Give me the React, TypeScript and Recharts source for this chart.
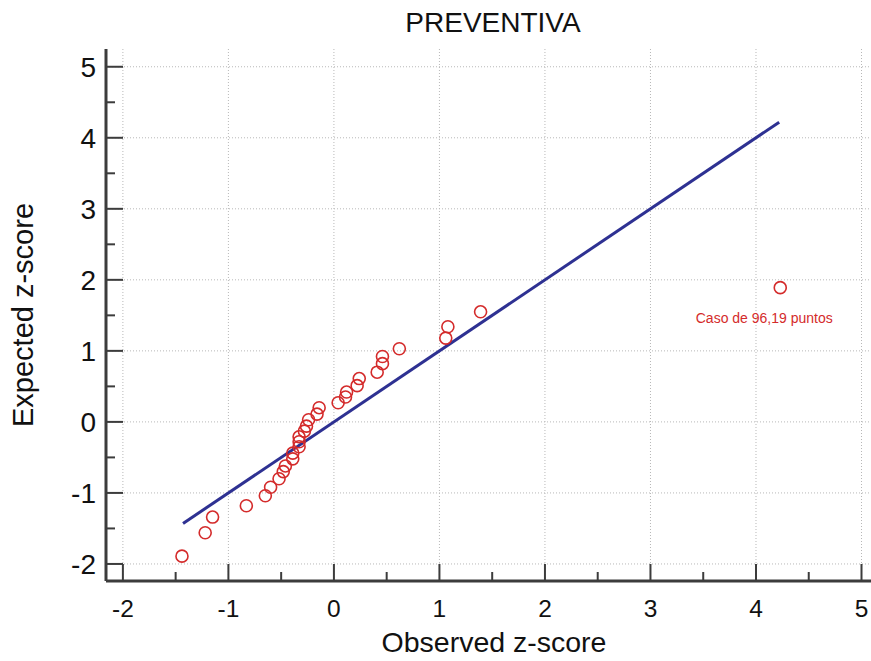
import React from "react";
import {
  ScatterChart,
  Scatter,
  XAxis,
  YAxis,
  CartesianGrid,
} from "recharts";

// observed z-score (x) vs expected z-score (y)
const observed = [
  -1.44, -1.22, -1.15, -0.83, -0.65, -0.6, -0.52, -0.48, -0.46, -0.39, -0.39,
  -0.33, -0.33, -0.33, -0.28, -0.26, -0.24, -0.16, -0.14, 0.04, 0.11, 0.12,
  0.22, 0.24, 0.41, 0.46, 0.46, 0.62, 1.06, 1.08, 1.39,
];
const expected = [
  -1.89, -1.56, -1.34, -1.18, -1.04, -0.92, -0.8, -0.7, -0.62, -0.52, -0.44,
  -0.35, -0.28, -0.21, -0.13, -0.06, 0.03, 0.11, 0.2, 0.27, 0.35, 0.42, 0.51,
  0.61, 0.7, 0.82, 0.92, 1.03, 1.18, 1.34, 1.55,
];
const outlier = [{ x: 4.23, y: 1.89, label: "Caso de 96,19 puntos" }];
const refLine = [
  { x: -1.43, y: -1.43 },
  { x: 4.22, y: 4.22 },
];
const majorTicks = [-2, -1, 0, 1, 2, 3, 4, 5];
const allTicks = [
  -2, -1.5, -1, -0.5, 0, 0.5, 1, 1.5, 2, 2.5, 3, 3.5, 4, 4.5, 5,
];

const points = observed.map((x, i) => ({ x, y: expected[i] }));

const FONT = "'Liberation Sans', Arial, sans-serif";
const RED = "#d42b2b";
const AXIS = "#3c3c3c";

const isMajor = (v: number) => Number.isInteger(v);

const XTick = ({ x, y, payload }: any) => {
  const v = payload.value;
  const len = isMajor(v) ? 17 : 9;
  return (
    <g>
      <line x1={x} x2={x} y1={y} y2={y - len} stroke={AXIS} strokeWidth={2} />
      {isMajor(v) && (
        <text x={x} y={y + 36} textAnchor="middle" fontSize={24.5} fill="#111" fontFamily={FONT}>
          {v}
        </text>
      )}
    </g>
  );
};

const YTick = ({ x, y, payload }: any) => {
  const v = payload.value;
  const len = isMajor(v) ? 17 : 9;
  return (
    <g>
      <line x1={x} x2={x + len} y1={y} y2={y} stroke={AXIS} strokeWidth={2} />
      {isMajor(v) && (
        <text x={x - 10} y={y + 10} textAnchor="end" fontSize={28} fill="#111" fontFamily={FONT}>
          {v}
        </text>
      )}
    </g>
  );
};

const OpenCircle = ({ cx, cy }: any) => (
  <circle cx={cx} cy={cy} r={6} fill="none" stroke={RED} strokeWidth={1.6} />
);

const OutlierShape = ({ cx, cy, payload }: any) => (
  <g>
    <circle cx={cx} cy={cy} r={6} fill="none" stroke={RED} strokeWidth={1.6} />
    <text x={cx - 16} y={cy + 35} textAnchor="middle" fontSize={14} fill={RED} fontFamily={FONT}>
      {payload.label}
    </text>
  </g>
);

export default function App() {
  return (
    <div style={{ position: "absolute", left: 0, top: 0, width: 871, height: 661, background: "#fff" }}>
      <ScatterChart width={871} height={661} margin={{ top: 49, right: 0, bottom: 0, left: 0 }}>
        <CartesianGrid
          horizontalValues={majorTicks}
          verticalValues={majorTicks}
          stroke="#b8b8b8"
          strokeDasharray="1 2"
        />
        <XAxis
          type="number"
          dataKey="x"
          domain={[-2.16, 5.09]}
          allowDataOverflow
          ticks={allTicks}
          interval={0}
          height={80}
          tickSize={0}
          tickMargin={0}
          tickLine={false}
          tick={<XTick />}
          axisLine={{ stroke: AXIS, strokeWidth: 3 }}
        />
        <YAxis
          type="number"
          dataKey="y"
          domain={[-2.24, 5.25]}
          allowDataOverflow
          ticks={allTicks}
          interval={0}
          width={106}
          tickSize={0}
          tickMargin={0}
          tickLine={false}
          tick={<YTick />}
          axisLine={{ stroke: AXIS, strokeWidth: 3 }}
        />
        <Scatter
          data={refLine}
          line={{ stroke: "#2e3192", strokeWidth: 3 }}
          shape={() => <g />}
          isAnimationActive={false}
        />
        <Scatter data={points} shape={<OpenCircle />} isAnimationActive={false} />
        <Scatter data={outlier} shape={<OutlierShape />} isAnimationActive={false} />
        <text x={493} y={32} textAnchor="middle" fontSize={28} fill="#111" fontFamily={FONT}>
          PREVENTIVA
        </text>
        <text x={494} y={652} textAnchor="middle" fontSize={28.5} fill="#111" fontFamily={FONT}>
          Observed z-score
        </text>
        <text
          x={33}
          y={315}
          textAnchor="middle"
          fontSize={29}
          fill="#111"
          fontFamily={FONT}
          transform="rotate(-90 33 315)"
        >
          Expected z-score
        </text>
      </ScatterChart>
    </div>
  );
}
